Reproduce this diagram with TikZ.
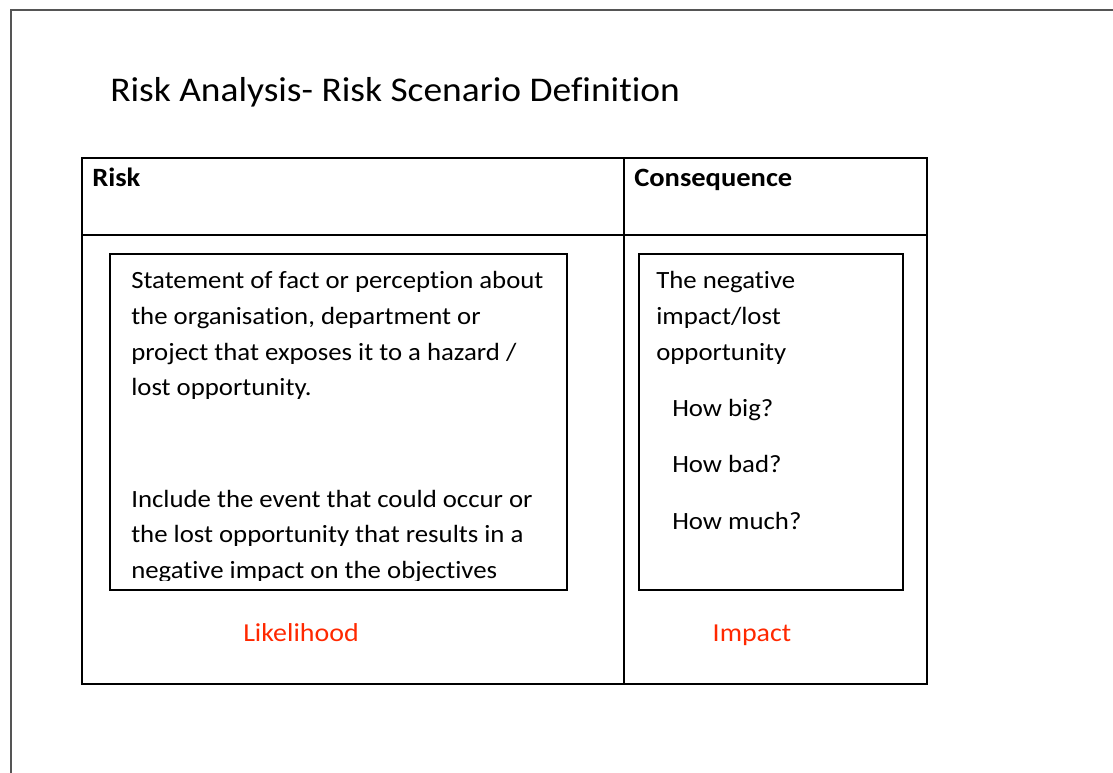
\documentclass[tikz,border=0pt]{standalone}
\usepackage{fontspec}
\setmainfont{Carlito}[FakeStretch=1.08,Ligatures=NoCommon]
\usetikzlibrary{positioning}
\definecolor{framegray}{RGB}{85,85,85}
\definecolor{rateRed}{RGB}{255,40,0}

\begin{document}
\begin{tikzpicture}[x=0.75pt,y=-0.75pt]
\tikzstyle{every node}+=[inner sep=0pt]
\tikzstyle{bodytext}=[anchor=base west, font=\fontsize{18.6}{22}\selectfont]
\tikzstyle{headtext}=[anchor=base west, font=\fontsize{19.8}{24}\selectfont\bfseries]
\tikzstyle{ratetext}=[anchor=base, text=rateRed, font=\fontsize{19.4}{23}\selectfont]
\useasboundingbox (0,0) rectangle (1113,773);
% slide frame, runs off to the right and bottom
\draw [framegray, line width=1.4pt] (11,780) -- (11,10) -- (1120,10);
\node [anchor=base west, font=\fontsize{26}{31}\selectfont] (title) at (110,102) {Risk Analysis- Risk Scenario Definition};
% table
\draw [black, line width=1.1pt] (82,158) rectangle (927,684);
\draw [black, line width=1.1pt] (624,158) -- (624,684);
\draw [black, line width=1.1pt] (82,235) -- (927,235);
\node [headtext] (risk) at (92,187) {Risk};
\node [headtext] (cons) at (634,187) {Consequence};
% risk box, text is cut off above its lower edge
\begin{scope}
\clip (110,254) rectangle (567,580);
\foreach \t [count=\i] in {Statement of fact or perception about,
  {the organisation, department or},
  project that exposes it to a hazard /,
  lost opportunity.}
  \node [bodytext] (stmt\i) at (131,{253.5+35.5*\i}) {\t};
\foreach \t [count=\i] in {Include the event that could occur or,
  the lost opportunity that results in a,
  negative impact on the objectives}
  \node [bodytext] (incl\i) at (131,{471.5+35.5*\i}) {\t};
\end{scope}
\draw [black, line width=1.1pt] (110,254) rectangle (567,590);
% consequence box
\draw [black, line width=1.1pt] (639,254) rectangle (903,590);
\foreach \t [count=\i] in {The negative, impact/lost, opportunity}
  \node [bodytext] (neg\i) at (656,{253.5+35.5*\i}) {\t};
\foreach \t/\y [count=\i] in {How big?/416, How bad?/472, How much?/529}
  \node [bodytext] (how\i) at (672,\y) {\t};
\node [ratetext] (like) at (301,641) {Likelihood};
\node [ratetext] (imp) at (752,641) {Impact};
\end{tikzpicture}
\end{document}
